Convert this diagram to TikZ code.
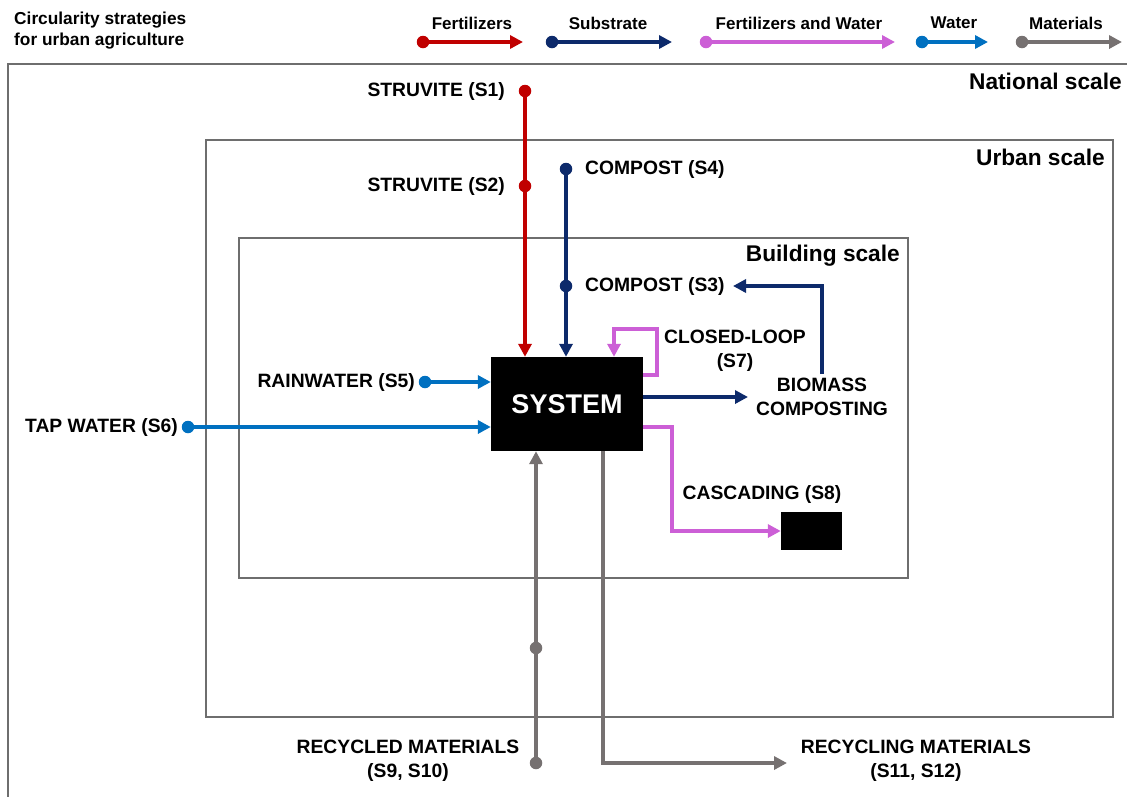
\documentclass[tikz,border=0pt]{standalone}
\usepackage{fontspec}
\setmainfont{Liberation Sans}
\usetikzlibrary{arrows.meta}

\definecolor{fert}{HTML}{C00000}
\definecolor{subs}{HTML}{0D2A6B}
\definecolor{fw}{HTML}{CC5FD6}
\definecolor{wat}{HTML}{0070C0}
\definecolor{mat}{HTML}{767171}
\definecolor{frame}{HTML}{6E6E6E}

\begin{document}
\begin{tikzpicture}[x=1pt,y=-1pt,
  flow/.style={line width=3.8pt,-{Triangle[length=13pt,width=13pt]}},
  dot/.style={circle,fill=#1,inner sep=0pt,minimum size=12.5pt},
  lbl/.style={font=\fontsize{19.3}{23.5}\selectfont\bfseries,inner sep=0pt,align=center},
  scalebox/.style={draw=frame,line width=1.3pt},
  scalelbl/.style={font=\fontsize{22.7}{26}\selectfont\bfseries,anchor=east,inner sep=0pt},
  leg/.style={font=\fontsize{17}{20}\selectfont\bfseries,inner sep=0pt},
  blackbox/.style={fill=black,inner sep=0pt}
]
\useasboundingbox (0,0) rectangle (1127,796);

% nested scales
\draw[scalebox] (1140,64) -- (8,64) -- (8,810);
\draw[scalebox] (206,140) rectangle (1113,717);
\draw[scalebox] (239,238) rectangle (908,578);
\node[scalelbl] (national) at (1122,81) {National scale};
\node[scalelbl] (urban) at (1105,157) {Urban scale};
\node[scalelbl] (building) at (900,256) {Building scale};

% title
\node[leg,anchor=west,align=left,font=\fontsize{17.3}{21}\selectfont\bfseries] (title) at (14,31)
  {Circularity strategies\\for urban agriculture};

% legend
\node[leg] (lgfert) at (472,23) {Fertilizers};
\node[dot=fert] (lgfertA) at (423,42) {};
\coordinate (lgfertB) at (523,42);
\draw[flow,fert] (lgfertA.center) -- (lgfertB);

\node[leg] (lgsubs) at (608,23) {Substrate};
\node[dot=subs] (lgsubsA) at (552,42) {};
\coordinate (lgsubsB) at (672,42);
\draw[flow,subs] (lgsubsA.center) -- (lgsubsB);

\node[leg] (lgfw) at (799,23) {Fertilizers and Water};
\node[dot=fw] (lgfwA) at (706,42) {};
\coordinate (lgfwB) at (895,42);
\draw[flow,fw] (lgfwA.center) -- (lgfwB);

\node[leg] (lgwat) at (954,23) {Water};
\node[dot=wat] (lgwatA) at (922,42) {};
\coordinate (lgwatB) at (988,42);
\draw[flow,wat] (lgwatA.center) -- (lgwatB);

\node[leg] (lgmat) at (1066,23) {Materials};
\node[dot=mat] (lgmatA) at (1022,42) {};
\coordinate (lgmatB) at (1122,42);
\draw[flow,mat] (lgmatA.center) -- (lgmatB);

% central system
\node[blackbox,minimum width=152pt,minimum height=94pt,text=white,
      font=\fontsize{27}{30}\selectfont\bfseries] (sys) at (567,404) {SYSTEM};

% struvite (fertilizers)
\node[dot=fert] (s1) at (525,91) {};
\node[dot=fert] (s2) at (525,186) {};
\node[lbl,anchor=east] (s1l) at (505,92) {STRUVITE (S1)};
\node[lbl,anchor=east] (s2l) at (505,187) {STRUVITE (S2)};
\draw[flow,fert] (s1.center) -- (s1 |- sys.north);

% compost (substrate)
\node[dot=subs] (s4) at (566,169) {};
\node[dot=subs] (s3) at (566,286) {};
\node[lbl,anchor=west] (s4l) at (585,170) {COMPOST (S4)};
\node[lbl,anchor=west] (s3l) at (585,287) {COMPOST (S3)};
\draw[flow,subs] (s4.center) -- (s4 |- sys.north);

% biomass composting loop
\node[lbl] (bio) at (822,397) {BIOMASS\\COMPOSTING};
\draw[flow,subs] (sys.east |- 0,397) -- (748,397);
\coordinate (s3in) at (733,286);
\draw[flow,subs] ([yshift=4pt]bio.north) -- (bio.north |- s3in) -- (s3in);

% closed loop
\coordinate (cl) at (657,329);
\node[lbl] (s7l) at (735,351) {CLOSED-LOOP\\(S7)};
\draw[flow,fw] (sys.east |- 0,375) -| (cl) -| (sys.north -| 614,0);

% cascading
\node[blackbox,minimum width=61pt,minimum height=38pt] (casc) at (811.5,531) {};
\coordinate (cc) at (672,531);
\node[lbl] (s8l) at (762,495) {CASCADING (S8)};
\draw[flow,fw] (sys.east |- 0,427) -| (cc) -- (casc.west);

% water
\node[dot=wat] (s5) at (425,382) {};
\node[lbl,anchor=east] (s5l) at (415,383) {RAINWATER (S5)};
\draw[flow,wat] (s5.center) -- (sys.west |- s5);
\node[dot=wat] (s6) at (188,427) {};
\node[lbl,anchor=east] (s6l) at (178,428) {TAP WATER (S6)};
\draw[flow,wat] (s6.center) -- (sys.west |- s6);

% materials
\node[dot=mat] (s9) at (536,763) {};
\node[dot=mat] (s9b) at (536,648) {};
\node[lbl] (s9l) at (408,761) {RECYCLED MATERIALS\\(S9, S10)};
\draw[flow,mat] (s9.center) -- (s9 |- sys.south);
\coordinate (s11in) at (787,763);
\node[lbl] (s11l) at (916,761) {RECYCLING MATERIALS\\(S11, S12)};
\draw[flow,mat] (sys.south -| 603,0) |- (s11in);

\end{tikzpicture}
\end{document}
